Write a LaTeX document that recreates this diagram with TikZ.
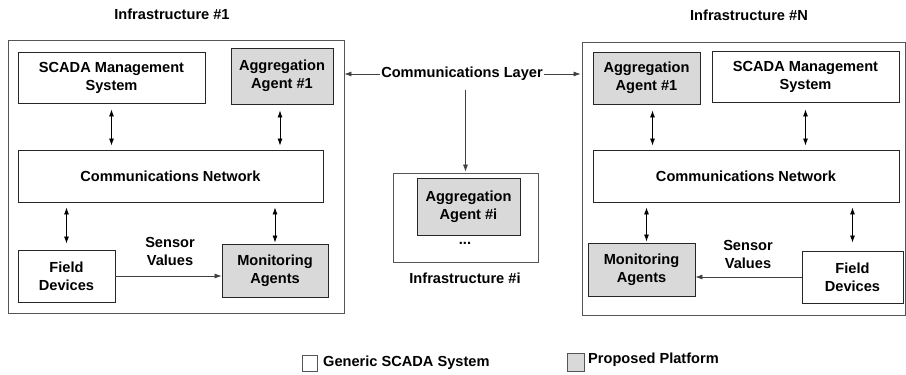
\documentclass[tikz,border=0pt]{standalone}
\usepackage{fontspec}
\setmainfont{Liberation Sans}
\usetikzlibrary{arrows.meta}

\definecolor{platgray}{HTML}{D9D9D9}
\definecolor{framegray}{HTML}{555555}

\tikzset{
  block/.style={draw=black!85, line width=0.9pt, align=center, inner sep=0pt},
  generic/.style={block, fill=white},
  proposed/.style={block, fill=platgray},
  infra/.style={draw=framegray, line width=0.9pt, inner sep=0pt},
  label/.style={align=center, inner sep=1pt},
  link/.style={<->, >={Latex[length=7pt,width=5pt]}, line width=0.8pt},
  flow/.style={->, >={Latex[length=7pt,width=5pt]}, line width=0.6pt, draw=black!75}
}

\begin{document}
\begin{tikzpicture}[x=1pt,y=-1pt,font=\fontsize{14.6}{18}\selectfont\bfseries]
    \useasboundingbox (0,0) rectangle (906,375);

    % infrastructure #1
    \node [infra, minimum width=336pt, minimum height=273pt] (infra1) at (176,176.5) {};
    \node [label] (title1) at (172,14) {Infrastructure \#1};
    \node [generic, minimum width=187pt, minimum height=51pt] (scada1) at (111.5,77.5) {SCADA Management\\System};
    \node [proposed, minimum width=102pt, minimum height=56pt] (agg1) at (282,76) {Aggregation\\Agent \#1};
    \node [generic, minimum width=305pt, minimum height=52pt] (net1) at (170.5,176) {Communications Network};
    \node [generic, minimum width=97pt, minimum height=52pt] (field1) at (66.5,276) {Field\\Devices};
    \node [proposed, minimum width=106pt, minimum height=53pt] (mon1) at (275,270.5) {Monitoring\\Agents};
    \node [label] (sens1) at (170,251) {Sensor\\Values};
    \draw [link, shorten <=6pt, shorten >=4pt] (scada1.south) -- (scada1.south |- net1.north);
    \draw [link, shorten <=6pt, shorten >=4pt] ([xshift=-2pt]agg1.south) -- ([xshift=-2pt]agg1.south |- net1.north);
    \draw [link, shorten <=5pt, shorten >=6pt] (field1.north |- net1.south) -- (field1.north);
    \draw [link, shorten <=5pt, shorten >=1pt] (mon1.north |- net1.south) -- (mon1.north);
    \draw [flow] (field1.east) -- (mon1.west |- field1.east);

    % infrastructure #N
    \node [infra, minimum width=323pt, minimum height=273pt] (infraN) at (743.5,178.5) {};
    \node [label] (titleN) at (749,15) {Infrastructure \#N};
    \node [proposed, minimum width=107pt, minimum height=52pt] (aggN) at (646.5,78) {Aggregation\\Agent \#1};
    \node [generic, minimum width=187pt, minimum height=51pt] (scadaN) at (805.5,76.5) {SCADA Management\\System};
    \node [generic, minimum width=306pt, minimum height=52pt] (netN) at (746,176) {Communications Network};
    \node [proposed, minimum width=107pt, minimum height=53pt] (monN) at (641.5,269.5) {Monitoring\\Agents};
    \node [generic, minimum width=101pt, minimum height=52pt] (fieldN) at (852.5,277) {Field\\Devices};
    \node [label] (sensN) at (748,254) {Sensor\\Values};
    \draw [link, shorten <=6pt, shorten >=4pt] ([xshift=6pt]aggN.south) -- ([xshift=6pt]aggN.south |- netN.north);
    \draw [link, shorten <=7pt, shorten >=4pt] (scadaN.south) -- (scadaN.south |- netN.north);
    \draw [link, shorten <=5pt, shorten >=1pt] ([xshift=5pt]monN.north |- netN.south) -- ([xshift=5pt]monN.north);
    \draw [link, shorten <=5pt, shorten >=8pt] (fieldN.north |- netN.south) -- (fieldN.north);
    \draw [flow] (fieldN.west) -- (monN.east |- fieldN.west);

    % communications layer and infrastructure #i
    \node [label] (layer) at (462,74) {Communications Layer};
    \node [infra, minimum width=145pt, minimum height=89pt] (infrai) at (465.5,217.5) {};
    \node [proposed, minimum width=103pt, minimum height=57pt] (aggi) at (468.5,206.5) {Aggregation\\Agent \#i};
    \node [label] (dotsi) at (465,243) {...};
    \node [label] (titlei) at (465,278) {Infrastructure \#i};
    \draw [flow] (layer.west) -- (infra1.east |- layer.west);
    \draw [flow] (layer.east) -- ([xshift=-1pt]infraN.west |- layer.east);
    \draw [flow, shorten <=8pt, shorten >=1pt] (infrai.north |- layer.south) -- (infrai.north);

    % legend
    \node [generic, draw=framegray, minimum width=15pt, minimum height=16pt] (keyg) at (309.5,363) {};
    \node [label, anchor=west] (keygtxt) at (322,363) {Generic SCADA System};
    \node [proposed, draw=framegray, minimum width=17pt, minimum height=18pt] (keyp) at (575.5,362) {};
    \node [label, anchor=west] (keyptxt) at (587,360) {Proposed Platform};
\end{tikzpicture}
\end{document}
